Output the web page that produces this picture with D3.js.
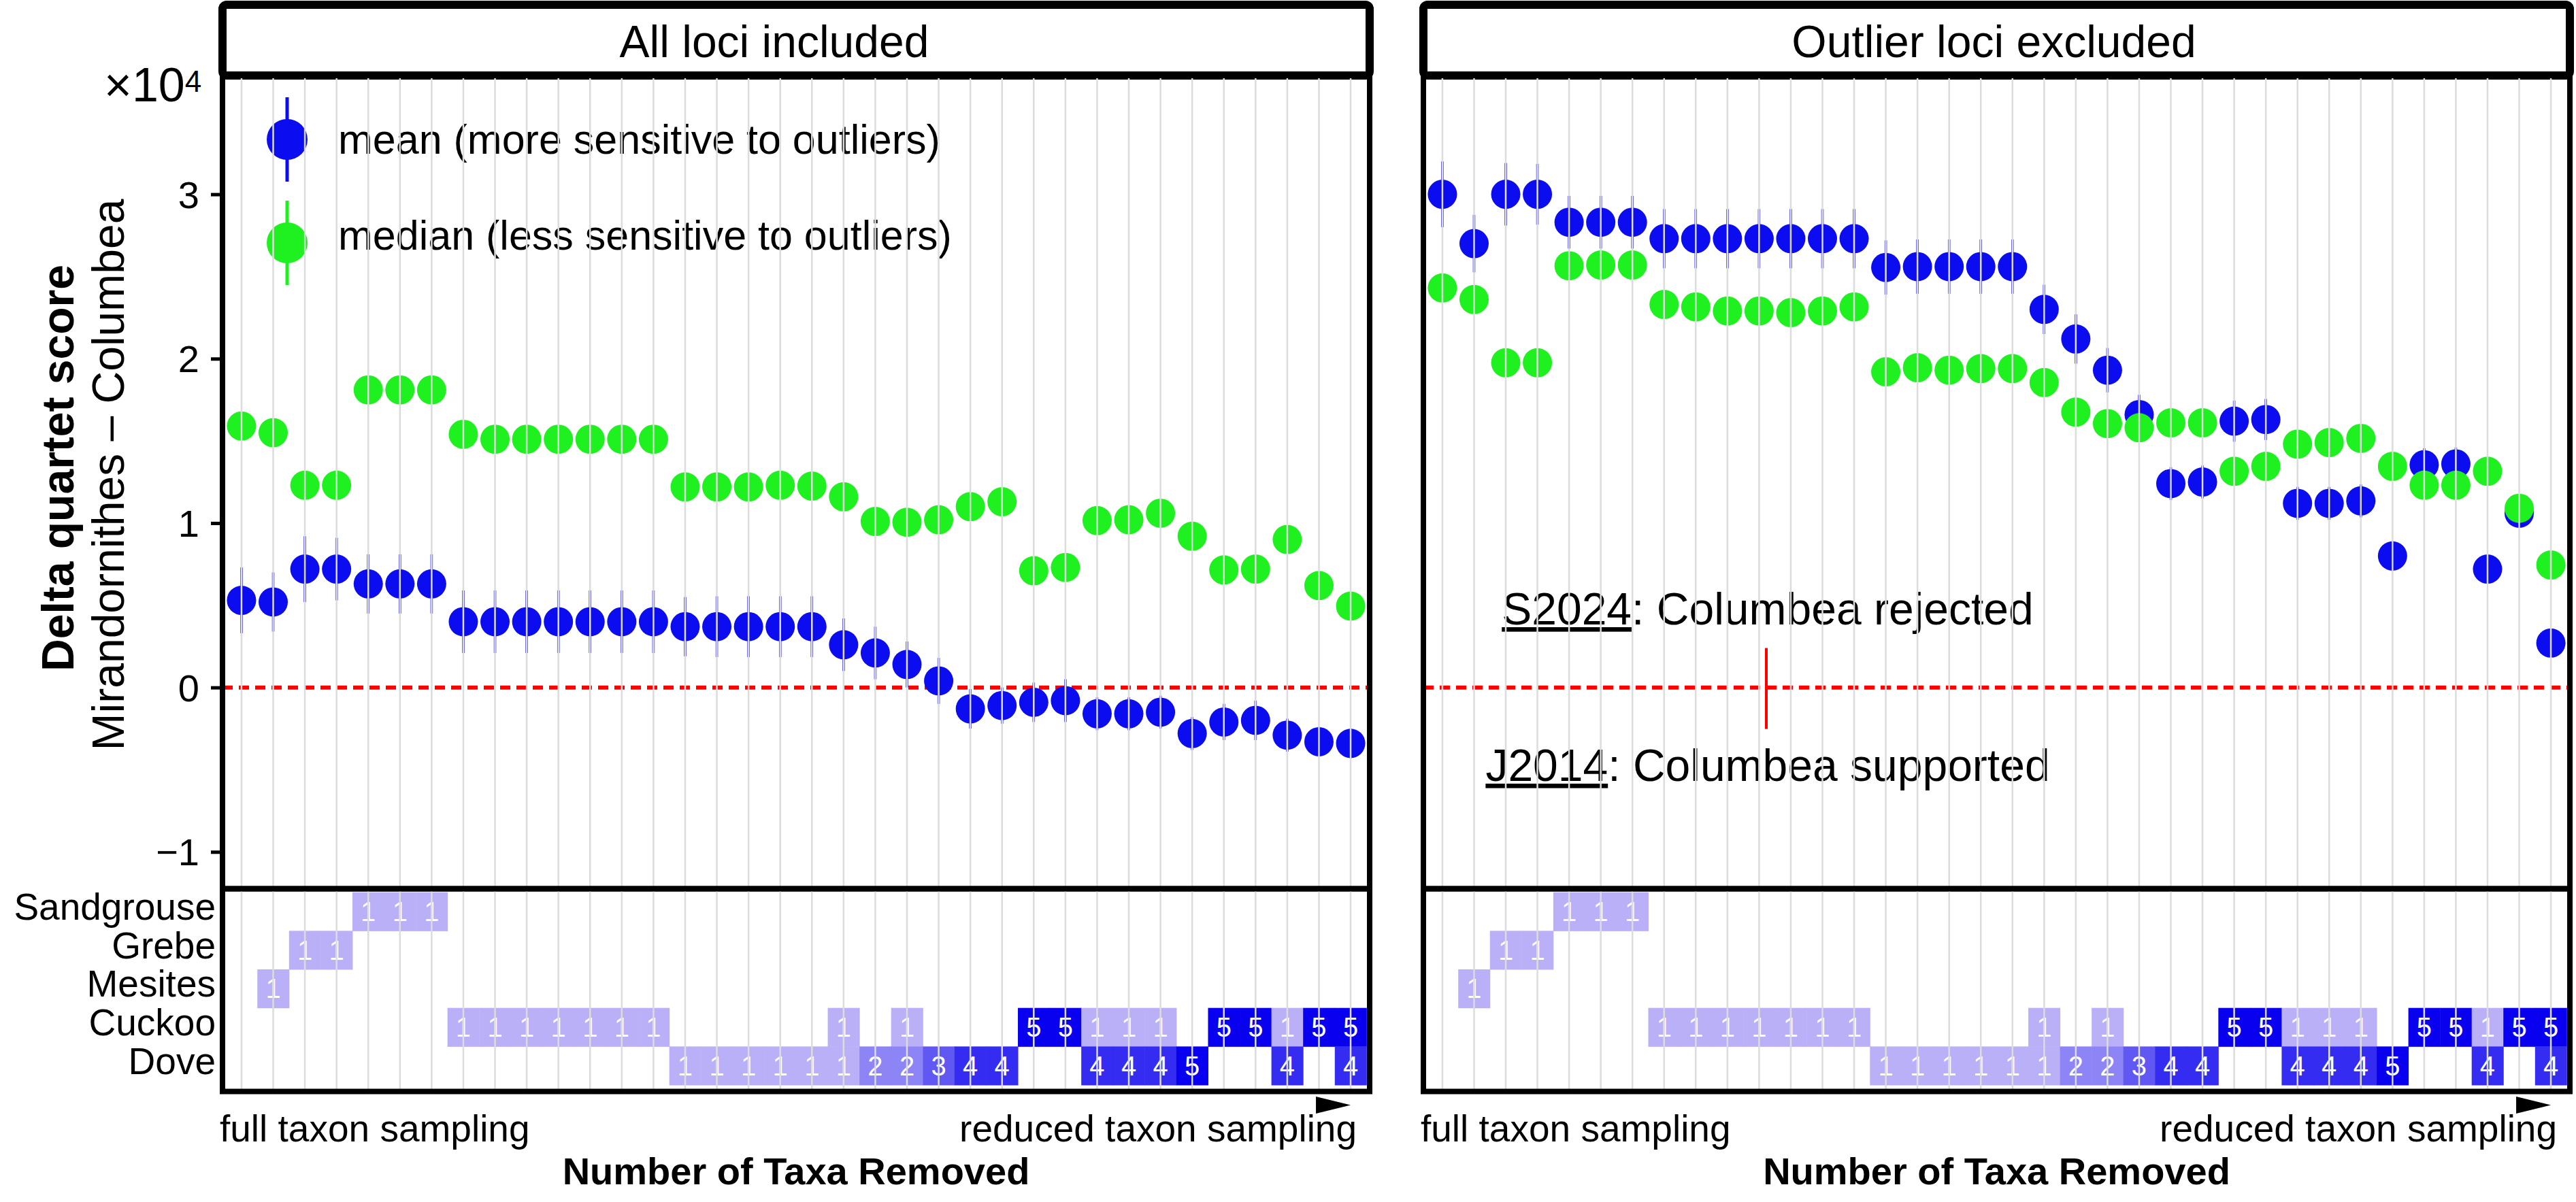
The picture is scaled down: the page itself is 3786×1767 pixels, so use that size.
<!DOCTYPE html>
<html><head><meta charset="utf-8">
<script src="https://cdn.jsdelivr.net/npm/d3@7"></script>
<style>
body{margin:0;background:#fff}
text{font-family:"Liberation Sans",Arial,Helvetica,sans-serif;fill:#000}
</style>
</head><body>
<svg id="chart" width="3786" height="1767"></svg>
<script>
// ---------------- DATA ----------------
const columns = d3.range(36); // taxon-removal steps, full -> reduced sampling
const panelTitles = ["All loci included", "Outlier loci excluded"];
const legendLabels = ["mean (more sensitive to outliers)", "median (less sensitive to outliers)"];
const yTicks = [-1, 0, 1, 2, 3];
const yScaleLabel = "×10";
const yScaleExp = "4";

// All loci included (×10^4)
const meanAll = [0.53, 0.52, 0.72, 0.72, 0.63, 0.63, 0.63, 0.40, 0.40, 0.40, 0.40, 0.40, 0.40, 0.40,
  0.37, 0.37, 0.37, 0.37, 0.37, 0.26, 0.21, 0.14, 0.04, -0.13, -0.11, -0.09, -0.08, -0.16, -0.16, -0.15,
  -0.28, -0.21, -0.20, -0.29, -0.33, -0.34];
const errAll = [0.20, 0.18, 0.20, 0.19, 0.18, 0.18, 0.18, 0.19, 0.19, 0.19, 0.19, 0.19, 0.19, 0.19,
  0.18, 0.185, 0.185, 0.185, 0.185, 0.16, 0.16, 0.14, 0.14, 0.12, 0.11, 0.12, 0.13, 0.10, 0.10, 0.10,
  0.10, 0.11, 0.12, 0.10, 0.09, 0.09];
const medianAll = [1.59, 1.55, 1.23, 1.23, 1.81, 1.81, 1.81, 1.54, 1.51, 1.51, 1.51, 1.51, 1.51, 1.51,
  1.22, 1.22, 1.22, 1.23, 1.225, 1.16, 1.01, 1.005, 1.02, 1.10, 1.13, 0.71, 0.73, 1.015, 1.02, 1.06,
  0.92, 0.715, 0.72, 0.90, 0.62, 0.495];

// Outlier loci excluded (×10^4)
const meanOut = [3.00, 2.70, 3.00, 3.00, 2.83, 2.83, 2.83, 2.73, 2.73, 2.73, 2.73, 2.73, 2.73, 2.73,
  2.555, 2.56, 2.56, 2.56, 2.56, 2.30, 2.12, 1.93, 1.66, 1.24, 1.25, 1.62, 1.63, 1.12, 1.12, 1.135,
  0.80, 1.355, 1.36, 0.72, 1.06, 0.27];
const errOut = [0.20, 0.175, 0.19, 0.185, 0.16, 0.16, 0.16, 0.18, 0.18, 0.18, 0.18, 0.18, 0.18, 0.18,
  0.165, 0.165, 0.165, 0.165, 0.165, 0.15, 0.15, 0.135, 0.12, 0.10, 0.10, 0.125, 0.125, 0.10, 0.10, 0.10,
  0.09, 0.10, 0.10, 0.08, 0.08, 0.08];
const medianOut = [2.43, 2.36, 1.975, 1.975, 2.565, 2.57, 2.57, 2.33, 2.315, 2.29, 2.29, 2.28, 2.29, 2.315,
  1.92, 1.945, 1.93, 1.94, 1.94, 1.855, 1.675, 1.605, 1.58, 1.61, 1.61, 1.315, 1.345, 1.48, 1.49, 1.515,
  1.345, 1.23, 1.23, 1.315, 1.09, 0.745];

// Taxa removed per step (heatmap)
const taxa = ["Sandgrouse", "Grebe", "Mesites", "Cuckoo", "Dove"];
const removedSandgrouse = [0,0,0,0,1,1,1,0,0,0,0,0,0,0,0,0,0,0,0,0,0,0,0,0,0,0,0,0,0,0,0,0,0,0,0,0];
const removedGrebe      = [0,0,1,1,0,0,0,0,0,0,0,0,0,0,0,0,0,0,0,0,0,0,0,0,0,0,0,0,0,0,0,0,0,0,0,0];
const removedMesites    = [0,1,0,0,0,0,0,0,0,0,0,0,0,0,0,0,0,0,0,0,0,0,0,0,0,0,0,0,0,0,0,0,0,0,0,0];
const removedCuckoo     = [0,0,0,0,0,0,0,1,1,1,1,1,1,1,0,0,0,0,0,1,0,1,0,0,0,5,5,1,1,1,0,5,5,1,5,5];
const removedDove       = [0,0,0,0,0,0,0,0,0,0,0,0,0,0,1,1,1,1,1,1,2,2,3,4,4,0,0,4,4,4,5,0,0,4,0,4];

const annotTop = ["S2024", ": Columbea rejected"];
const annotBottom = ["J2014", ": Columbea supported"];
const xLabelLeft = "full taxon sampling";
const xLabelRight = "reduced taxon sampling";
const xTitle = "Number of Taxa Removed";
const yTitle1 = "Delta quartet score";
const yTitle2 = "Mirandornithes – Columbea";

// ---------------- LAYOUT ----------------
const BLUE = "#0c0cf0", GREEN = "#1ff01f", RED = "#ff0000", GRID = "#dcdcdc";
const L = {stripTop: 7, panelTop: 111, scatterBottom: 1306.5, heatBottom: 1604.5};
const panelX = [[327, 2013], [2092, 3777]];
const titleShift = [-32, -4];

const svg = d3.select("#chart");
const y = d3.scaleLinear().domain([-1, 3]).range([1252.3, 285.6]);
const heatY = d3.scaleBand().domain(taxa).range([1311.7, 1595]);
const heatColor = d3.scaleLinear().domain([1, 5]).range(["#b9b0f8", "#0800ee"]);

const removed = [removedSandgrouse, removedGrebe, removedMesites, removedCuckoo, removedDove];
const cells = [];
taxa.forEach((t, ti) => removed[ti].forEach((v, c) => { if (v > 0) cells.push({taxon: t, col: c, v}); }));

const datasets = [
  {title: panelTitles[0], mean: meanAll, err: errAll, median: medianAll},
  {title: panelTitles[1], mean: meanOut, err: errOut, median: medianOut}
];

datasets.forEach((ds, pi) => {
  const [x0, x1] = panelX[pi];
  const x = d3.scalePoint().domain(columns).range([x0, x1]).padding(0.6);
  const step = x.step();
  const g = svg.append("g");

  // strip
  g.append("rect").attr("x", x0).attr("y", L.stripTop).attr("width", x1 - x0)
    .attr("height", L.panelTop - L.stripTop).attr("rx", 6)
    .attr("fill", "#fff").attr("stroke", "#000").attr("stroke-width", 12);
  g.append("text").attr("x", (x0 + x1) / 2 + titleShift[pi]).attr("y", 84).attr("text-anchor", "middle")
    .attr("font-size", 66).text(ds.title);

  // zero reference line
  g.append("line").attr("x1", x0).attr("x2", x1).attr("y1", y(0)).attr("y2", y(0))
    .attr("stroke", RED).attr("stroke-width", 6).attr("stroke-dasharray", "15 9");

  const pts = columns.map(c => ({c, mean: ds.mean[c], err: ds.err[c], median: ds.median[c]}));

  // mean error bars + points
  g.append("g").selectAll("line").data(pts).join("line")
    .attr("x1", d => x(d.c)).attr("x2", d => x(d.c))
    .attr("y1", d => y(d.mean - d.err)).attr("y2", d => y(d.mean + d.err))
    .attr("stroke", BLUE).attr("stroke-width", 3.5);
  g.append("g").selectAll("circle").data(pts).join("circle")
    .attr("cx", d => x(d.c)).attr("cy", d => y(d.mean)).attr("r", 21.5).attr("fill", BLUE);
  // median points
  g.append("g").selectAll("circle").data(pts).join("circle")
    .attr("cx", d => x(d.c)).attr("cy", d => y(d.median)).attr("r", 21.5).attr("fill", GREEN);

  if (pi === 0) {
    // legend
    const leg = g.append("g");
    const items = [{label: legendLabels[0], col: BLUE, cy: 205, ty: 226},
                   {label: legendLabels[1], col: GREEN, cy: 357, ty: 367}];
    items.forEach(it => {
      leg.append("line").attr("x1", 422).attr("x2", 422).attr("y1", it.cy - 62).attr("y2", it.cy + 62)
        .attr("stroke", it.col).attr("stroke-width", 5);
      leg.append("circle").attr("cx", 422).attr("cy", it.cy).attr("r", 30).attr("fill", it.col);
      leg.append("text").attr("x", 497).attr("y", it.ty).attr("font-size", 61).text(it.label);
    });
  } else {
    // annotation
    const ax = 2598;
    const t1 = g.append("text").attr("x", ax).attr("y", 918).attr("text-anchor", "middle").attr("font-size", 66);
    t1.append("tspan").style("text-decoration", "underline").text(annotTop[0]);
    t1.append("tspan").text(annotTop[1]);
    const t2 = g.append("text").attr("x", ax).attr("y", 1148).attr("text-anchor", "middle").attr("font-size", 66);
    t2.append("tspan").style("text-decoration", "underline").text(annotBottom[0]);
    t2.append("tspan").text(annotBottom[1]);
    g.append("line").attr("x1", 2596).attr("x2", 2596).attr("y1", y(0) - 58).attr("y2", y(0) + 61)
      .attr("stroke", RED).attr("stroke-width", 4);
  }

  // grid lines (drawn on top, as in the reference)
  g.append("g").selectAll("line").data(columns).join("line")
    .attr("x1", d => x(d)).attr("x2", d => x(d))
    .attr("y1", L.panelTop).attr("y2", L.scatterBottom)
    .attr("stroke", GRID).attr("stroke-width", 2.5);

  g.append("rect").attr("x", x0).attr("y", L.panelTop).attr("width", x1 - x0)
    .attr("height", L.scatterBottom - L.panelTop).attr("fill", "none")
    .attr("stroke", "#000").attr("stroke-width", 8);

  // heatmap
  const hg = g.append("g");
  hg.selectAll("rect").data(cells).join("rect")
    .attr("x", d => x(d.col) - step / 2).attr("y", d => heatY(d.taxon))
    .attr("width", step + 0.5).attr("height", heatY.bandwidth() + 0.5)
    .attr("fill", d => heatColor(d.v));
  hg.selectAll("text").data(cells).join("text")
    .attr("x", d => x(d.col)).attr("y", d => heatY(d.taxon) + heatY.bandwidth() / 2)
    .attr("dominant-baseline", "central").attr("text-anchor", "middle")
    .attr("font-size", 40).style("fill", "#fff").text(d => d.v);
  hg.append("g").selectAll("line").data(columns).join("line")
    .attr("x1", d => x(d)).attr("x2", d => x(d))
    .attr("y1", L.scatterBottom).attr("y2", L.heatBottom)
    .attr("stroke", GRID).attr("stroke-width", 2.5);
  hg.append("rect").attr("x", x0).attr("y", L.scatterBottom).attr("width", x1 - x0)
    .attr("height", L.heatBottom - L.scatterBottom).attr("fill", "none")
    .attr("stroke", "#000").attr("stroke-width", 8);

  // x annotations
  g.append("text").attr("x", x0 - 4).attr("y", 1678).attr("font-size", 55).text(xLabelLeft);
  const xe = x(columns[columns.length - 1]);
  g.append("text").attr("x", xe + 9).attr("y", 1678).attr("text-anchor", "end").attr("font-size", 55).text(xLabelRight);
  g.append("path").attr("d", `M${xe - 51},1612 L${xe - 51},1637 L${xe},1624.5 Z`).attr("fill", "#000");
  g.append("text").attr("x", (x0 + x1) / 2).attr("y", 1741).attr("text-anchor", "middle")
    .attr("font-size", 56).attr("font-weight", "bold").text(xTitle);

  if (pi === 0) {
    // y axis
    const ya = g.append("g").attr("transform", `translate(${x0},0)`)
      .call(d3.axisLeft(y).tickValues(yTicks).tickSize(17).tickPadding(17)
        .tickFormat(d => d < 0 ? "\u2212" + Math.abs(d) : String(d)));
    ya.select(".domain").remove();
    ya.selectAll(".tick line").attr("stroke", "#000").attr("stroke-width", 5);
    ya.selectAll(".tick text").attr("font-size", 56).attr("dy", null)
      .attr("dominant-baseline", "central").style("fill", "#000")
      .style("font-family", '"Liberation Sans",Arial,Helvetica,sans-serif');

    const sc = g.append("text").attr("x", 153).attr("y", 149).attr("font-size", 70);
    sc.append("tspan").text(yScaleLabel);
    sc.append("tspan").attr("font-size", 44).attr("dy", -14).text(yScaleExp);

    g.append("text").attr("transform", "translate(108,688) rotate(-90)").attr("text-anchor", "middle")
      .attr("font-size", 66).attr("font-weight", "bold").text(yTitle1);
    g.append("text").attr("transform", "translate(182,698) rotate(-90)").attr("text-anchor", "middle")
      .attr("font-size", 66).text(yTitle2);

    // heatmap row labels
    const ha = g.append("g").attr("transform", `translate(${x0},0)`)
      .call(d3.axisLeft(heatY).tickSize(0).tickPadding(10));
    ha.select(".domain").remove();
    ha.selectAll(".tick text").attr("font-size", 55).attr("dy", null).attr("y", -7)
      .attr("dominant-baseline", "central").style("fill", "#000")
      .style("font-family", '"Liberation Sans",Arial,Helvetica,sans-serif');
  }
});
</script>
</body></html>
